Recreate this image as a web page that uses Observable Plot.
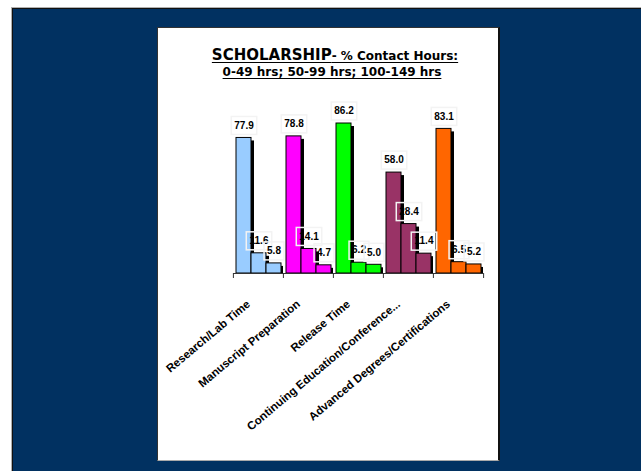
<!DOCTYPE html>
<html>
<head>
<meta charset="utf-8">
<script src="https://cdn.jsdelivr.net/npm/d3@7"></script>
<script src="https://cdn.jsdelivr.net/npm/@observablehq/plot@0.6"></script>
<style>
  html, body { margin: 0; padding: 0; }
  body { width: 641px; height: 471px; position: relative; overflow: hidden; background: #ffffff; }
  #backdrop {
    position: absolute; left: 12px; top: 8px; width: 629px; height: 463px;
    background: #013161; border-left: 1px solid #111; border-top: 1px solid #111;
    box-shadow: -1px -1px 0 #b0b0b0;
  }
  #panel {
    position: absolute; left: 157px; top: 27px; width: 343px; height: 434px; box-sizing: border-box;
    background: #ffffff; border-left: 1px solid #333; border-top: 1px solid #333;
    border-right: 2px solid #111; border-bottom: 1px solid #aaa;
  }
  .title {
    position: absolute; width: 342px; text-align: center; white-space: nowrap;
    font-family: "DejaVu Sans", Verdana, sans-serif; font-weight: bold; color: #000;
    text-decoration: underline; text-decoration-thickness: 1px; text-underline-offset: 2px;
  }
  #title1 { left: 164px; top: 46px; font-size: 15px; line-height: 18px; }
  #title1 .small { font-size: 12px; }
  #title2 { left: 161px; top: 64px; font-size: 12px; line-height: 16px; }
  #chart { position: absolute; left: 158px; top: 85px; }
</style>
</head>
<body>
<div id="backdrop"></div>
<div id="panel"></div>
<div id="title1" class="title">SCHOLARSHIP<span class="small">- % Contact Hours:</span></div>
<div id="title2" class="title">0-49 hrs; 50-99 hrs; 100-149 hrs</div>
<div id="chart"></div>
<script>
// Activity categories along the axis
const categories = [
  "Research/Lab Time",
  "Manuscript Preparation",
  "Release Time",
  "Continuing Education/Conference...",
  "Advanced Degrees/Certifications"
];
// Contact-hour groups, one bar each inside a category
const hourBands = ["0-49 hrs", "50-99 hrs", "100-149 hrs"];

// Percent of respondents per contact-hour group
const researchLab = [77.9, 11.6, 5.8];
const manuscriptPrep = [78.8, 14.1, 4.7];
const releaseTime = [86.2, 6.2, 5.0];
const continuingEd = [58.0, 28.4, 11.4];
const advancedDegrees = [83.1, 6.5, 5.2];

const categoryColors = ["#99CCFF", "#FF00FF", "#00FF00", "#993366", "#FF6600"];

const seriesValues = [researchLab, manuscriptPrep, releaseTime, continuingEd, advancedDegrees];
const rows = categories.flatMap((category, i) =>
  hourBands.map((band, j) => ({
    category,
    band,
    value: seriesValues[i][j],
    color: categoryColors[i]
  }))
);

const fmt = d3.format(".1f");

const W = 340, H = 374;
const mL = 74, mR = 15, mT = 14, mB = 186;
const facetStep = (W - mL - mR) / categories.length;

// Approximate advance widths (em) of the bold sans used for value labels
const glyphEm = ch => (ch === "." ? 0.278 : 0.556);
const labelSize = 10;

// Thin light frame drawn around each value label
function withLabelBox(index, scales, values, dimensions, context, next) {
  const g = next(index, scales, values, dimensions, context);
  const ns = "http://www.w3.org/2000/svg";
  for (const t of Array.from(g.querySelectorAll("text"))) {
    const m = /translate\(\s*([-\d.eE]+)[ ,]+([-\d.eE]+)\s*\)/.exec(t.getAttribute("transform") || "");
    const x = m ? +m[1] : +(t.getAttribute("x") || 0);
    const y = m ? +m[2] : +(t.getAttribute("y") || 0);
    const s = t.textContent;
    const w = Array.from(s).reduce((a, c) => a + glyphEm(c), 0) * labelSize + 6;
    const h = 18;
    const r = document.createElementNS(ns, "rect");
    r.setAttribute("x", x - w / 2);
    r.setAttribute("y", y - h / 2);
    r.setAttribute("width", w);
    r.setAttribute("height", h);
    r.setAttribute("fill", "none");
    r.setAttribute("stroke", "#f3f3f3");
    r.setAttribute("stroke-width", 1.5);
    t.parentNode.insertBefore(r, t);
  }
  return g;
}

const chart = Plot.plot({
  width: W,
  height: H,
  marginLeft: mL,
  marginRight: mR,
  marginTop: mT,
  marginBottom: mB,
  style: {
    fontFamily: "'Liberation Sans', Arial, sans-serif",
    fontSize: "10px",
    fontWeight: "bold",
    background: "transparent",
    overflow: "visible",
    color: "#000"
  },
  fx: { domain: categories, padding: 0, axis: null, label: null },
  x: { domain: hourBands, paddingInner: 0, paddingOuter: 0.08, axis: null },
  y: { domain: [0, 100], axis: null },
  color: { type: "identity" },
  marks: [
    // drop shadows
    Plot.barY(rows, { fx: "category", x: "band", y: "value", fill: "#000", dx: 3, dy: 3, inset: 0, clip: true }),
    // bars
    Plot.barY(rows, { fx: "category", x: "band", y: "value", fill: "color", stroke: "#000", strokeWidth: 1, inset: 0 }),
    // category axis line
    Plot.ruleY([0], { stroke: "#333", strokeWidth: 1 }),
    // tick marks between categories
    Plot.axisFx({ anchor: "bottom", tickSize: 5, tickFormat: () => "", dx: -facetStep / 2, stroke: "#333", label: null }),
    Plot.axisFx({ anchor: "bottom", ticks: [categories[categories.length - 1]], tickSize: 5, tickFormat: () => "", dx: facetStep / 2, stroke: "#333", label: null }),
    // rotated category names
    Plot.axisFx({ anchor: "bottom", tickSize: 0, tickPadding: 29, tickRotate: -40, fontSize: 11.5, fontWeight: "bold", dx: -10, label: null }),
    // value labels
    Plot.text(rows, {
      fx: "category", x: "band", y: "value",
      text: d => fmt(d.value),
      dy: -12.5, lineAnchor: "middle",
      fontSize: labelSize, fontWeight: "bold", fill: "#000",
      render: withLabelBox
    })
  ]
});

document.getElementById("chart").appendChild(chart);
</script>
</body>
</html>
